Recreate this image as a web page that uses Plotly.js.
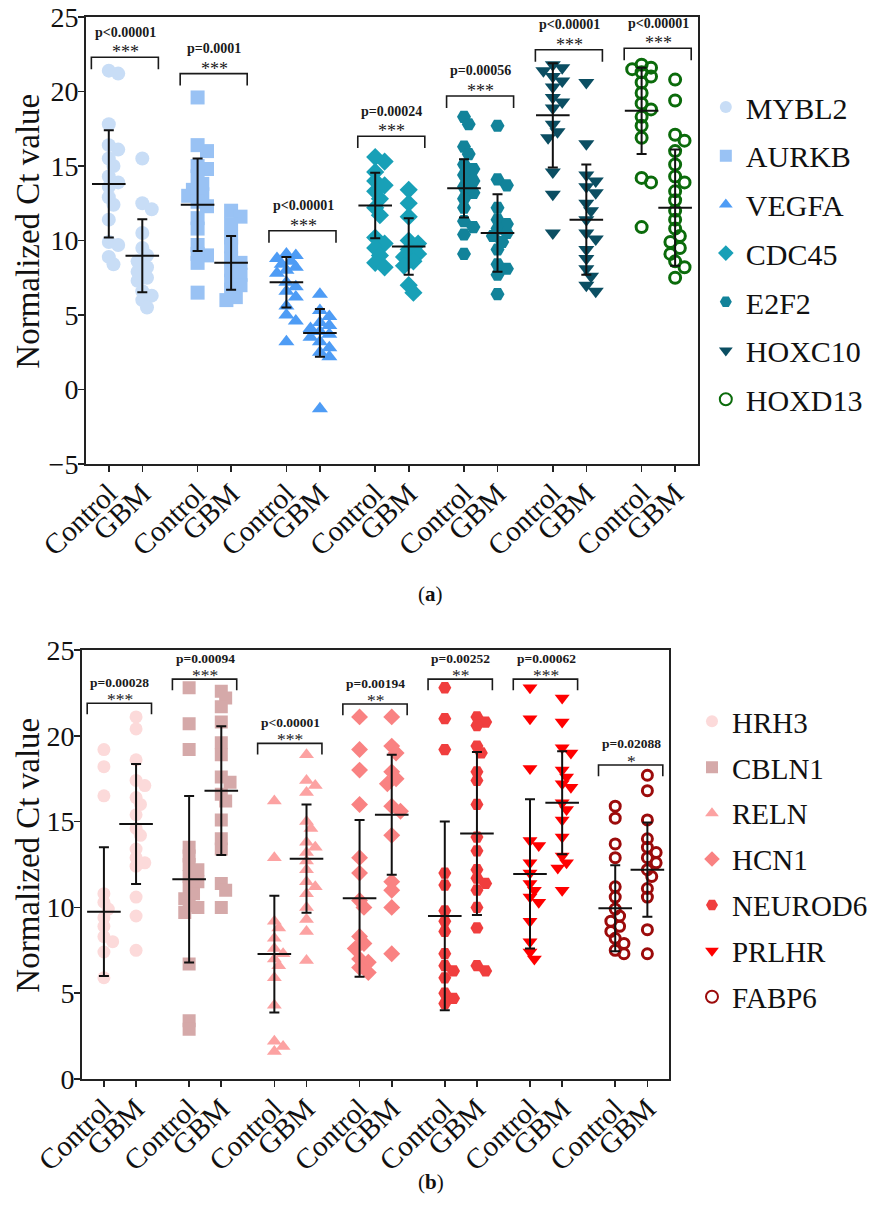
<!DOCTYPE html>
<html>
<head>
<meta charset="utf-8">
<script src="https://cdn.plot.ly/plotly-3.0.1.min.js"></script>
<style>
html,body{margin:0;padding:0;background:#fff}
#chart{width:873px;height:1216px}
</style>
</head>
<body>
<div id="chart"></div>
<script>
// ---------- data: normalized Ct values per gene and group ----------
const groupLabels = ['Control', 'GBM'];
const yTitle = 'Normalized Ct value';

// panel (a)
const genesA = ['MYBL2', 'AURKB', 'VEGFA', 'CDC45', 'E2F2', 'HOXC10', 'HOXD13'];
const mybl2Control = [21.4, 21.2, 17.8, 16.4, 16.1, 15.5, 15.0, 14.3, 13.9, 13.6, 12.9, 12.4, 11.4, 9.9, 9.7, 8.9, 8.4];
const mybl2GBM = [15.5, 12.5, 12.1, 10.5, 9.5, 9.0, 8.6, 8.2, 7.9, 7.5, 7.3, 6.6, 6.3, 6.0, 5.5];
const aurkbControl = [19.6, 16.4, 16.0, 15.0, 14.8, 14.3, 13.8, 13.4, 13.1, 13.0, 12.6, 12.3, 11.5, 10.8, 9.7, 9.1, 9.0, 8.5, 6.5];
const aurkbGBM = [12.0, 11.6, 11.1, 10.2, 9.6, 8.8, 8.5, 8.0, 7.7, 7.3, 7.0, 6.7, 6.2, 6.0];
const vegfaControl = [9.1, 9.0, 8.8, 8.6, 8.4, 8.2, 8.0, 7.8, 7.2, 6.9, 6.6, 6.2, 5.6, 5.0, 4.6, 3.2];
const vegfaGBM = [6.4, 5.3, 4.9, 4.5, 4.3, 4.1, 3.9, 3.7, 3.5, 3.2, 2.8, 2.5, 2.2, -1.3];
const cdc45Control = [15.6, 15.3, 14.6, 14.0, 13.7, 13.3, 12.8, 12.2, 11.7, 10.2, 9.8, 9.5, 9.0, 8.5, 8.2];
const cdc45GBM = [13.4, 12.5, 11.6, 10.0, 9.8, 9.4, 9.1, 8.9, 8.6, 8.3, 7.0, 6.5];
const e2f2Control = [18.3, 17.8, 16.3, 15.8, 15.1, 14.8, 14.4, 14.0, 13.6, 13.2, 12.8, 12.2, 11.3, 10.9, 10.4, 9.1];
const e2f2GBM = [17.7, 14.1, 13.7, 12.2, 11.4, 11.1, 10.8, 10.5, 10.3, 9.9, 9.4, 8.4, 8.1, 7.7, 6.4];
const hoxc10Control = [21.8, 21.6, 21.4, 21.0, 20.7, 20.3, 19.6, 19.3, 18.9, 17.8, 17.3, 16.9, 14.6, 13.1, 10.5];
const hoxc10GBM = [20.6, 16.5, 14.4, 14.0, 13.6, 13.2, 12.5, 12.0, 11.4, 10.5, 10.1, 9.4, 8.8, 8.1, 7.6, 7.0, 6.6];
const hoxd13Control = [21.8, 21.6, 21.5, 21.3, 21.0, 20.6, 19.9, 19.2, 18.8, 18.3, 17.7, 16.9, 14.2, 13.9, 10.9];
const hoxd13GBM = [20.8, 19.4, 17.1, 16.7, 16.0, 15.1, 14.3, 13.9, 13.3, 12.7, 12.0, 11.4, 10.8, 10.3, 9.9, 9.5, 9.1, 8.6, 8.2, 7.5];
// mean and SD per group
const meanCtrlA = [13.8, 12.4, 7.2, 12.35, 13.5, 18.4, 18.7];
const sdCtrlA = [3.6, 3.1, 1.7, 2.2, 1.95, 3.5, 2.9];
const meanGbmA = [8.98, 8.5, 3.8, 9.6, 10.5, 11.4, 12.2];
const sdGbmA = [2.45, 1.8, 1.6, 1.9, 2.6, 3.7, 3.9];
const pLabelsA = ['p<0.00001', 'p=0.0001', 'p<0.00001', 'p=0.00024', 'p=0.00056', 'p<0.00001', 'p<0.00001'];
const starsA = ['***', '***', '***', '***', '***', '***', '***'];

// panel (b)
const genesB = ['HRH3', 'CBLN1', 'RELN', 'HCN1', 'NEUROD6', 'PRLHR', 'FABP6'];
const hrh3Control = [19.2, 18.2, 16.5, 10.8, 10.3, 9.9, 9.4, 8.9, 8.3, 8.0, 7.4, 5.9];
const hrh3GBM = [21.1, 20.4, 18.6, 17.4, 17.1, 16.4, 16.0, 15.4, 14.6, 14.2, 13.4, 12.9, 12.6, 12.4, 10.6, 9.5, 7.5];
const cbln1Control = [22.8, 20.7, 19.2, 13.5, 13.0, 12.5, 12.2, 11.8, 11.5, 11.2, 10.8, 10.5, 10.1, 10.0, 9.7, 6.7, 3.4, 2.9];
const cbln1GBM = [22.6, 22.2, 21.7, 20.8, 19.6, 18.9, 17.6, 17.3, 16.6, 16.2, 15.1, 14.0, 13.4, 11.4, 11.0, 10.0];
const relnControl = [16.2, 12.9, 9.2, 8.8, 8.2, 7.6, 7.3, 7.0, 6.6, 5.9, 4.3, 2.2, 1.9, 1.6];
const relnGBM = [18.9, 17.4, 17.1, 16.7, 15.0, 14.6, 13.8, 13.5, 13.2, 12.7, 12.2, 11.5, 11.2, 10.8, 10.0, 9.3, 8.6, 6.9];
const hcn1Control = [21.1, 19.2, 18.0, 16.0, 12.9, 12.0, 10.4, 10.0, 8.3, 7.9, 7.6, 7.0, 6.8, 6.5, 6.2];
const hcn1GBM = [21.1, 19.4, 19.0, 17.9, 17.5, 17.2, 15.9, 15.6, 14.2, 11.5, 11.0, 10.0, 7.3];
const neurod6Control = [22.8, 21.0, 19.2, 12.0, 11.3, 9.8, 9.2, 8.6, 7.3, 6.6, 6.3, 5.9, 5.0, 4.7, 4.4];
const neurod6GBM = [21.1, 20.8, 20.6, 19.4, 19.0, 17.9, 17.4, 16.0, 14.1, 13.3, 12.2, 11.7, 11.4, 11.0, 10.0, 8.8, 6.6, 6.3];
const prlhrControl = [22.8, 21.0, 18.1, 13.9, 13.6, 12.6, 12.0, 11.4, 11.0, 10.6, 10.3, 9.2, 8.0, 7.4, 7.0];
const prlhrGBM = [22.2, 20.8, 19.3, 19.0, 18.0, 17.6, 17.2, 17.0, 16.1, 15.7, 15.1, 14.1, 13.0, 12.6, 12.3, 11.0];
const fabp6Control = [15.9, 15.2, 13.7, 12.9, 11.2, 10.6, 9.9, 9.5, 9.2, 8.9, 8.6, 8.2, 7.9, 7.5, 7.3];
const fabp6GBM = [17.7, 16.8, 15.1, 14.0, 13.5, 13.2, 12.9, 12.6, 12.2, 11.8, 11.1, 10.6, 8.7, 7.3];
const meanCtrlB = [9.75, 11.64, 7.28, 10.53, 9.5, 11.95, 9.95];
const sdCtrlB = [3.75, 4.85, 3.4, 4.57, 5.5, 4.35, 2.5];
const meanGbmB = [14.86, 16.8, 12.84, 15.4, 14.3, 16.1, 12.2];
const sdGbmB = [3.5, 3.75, 3.15, 3.5, 4.75, 3.0, 2.75];
const pLabelsB = ['p=0.00028', 'p=0.00094', 'p<0.00001', 'p=0.00194', 'p=0.00252', 'p=0.00062', 'p=0.02088'];
const starsB = ['***', '***', '***', '**', '**', '***', '*'];

// ---------- styling and layout ----------
const FONT = "'Liberation Serif', 'Times New Roman', serif";
const SLOT = 2.65;                // spacing between gene pairs, in x units
const symbols = ['circle', 'square', 'triangle-up', 'diamond', 'hexagon2', 'triangle-down', 'circle-open'];
const colorsA = ['#c8ddf6', '#99c2f4', '#4e9cf5', '#18a0b7', '#12839a', '#0b4e62', '#0b6b0b'];
const colorsB = ['#fcdada', '#d5a9a9', '#fca2a2', '#f98282', '#f03e3e', '#ff0000', '#9c0b0b'];
// heights of the significance brackets
const bracketLevelA = [22.3, 21.2, 10.65, 17.0, 19.7, 22.8, 22.9];
const bracketLevelB = [21.9, 23.3, 19.56, 21.85, 23.3, 23.3, 18.3];

const panels = [
  {
    genes: genesA, colors: colorsA,
    control: [mybl2Control, aurkbControl, vegfaControl, cdc45Control, e2f2Control, hoxc10Control, hoxd13Control],
    gbm: [mybl2GBM, aurkbGBM, vegfaGBM, cdc45GBM, e2f2GBM, hoxc10GBM, hoxd13GBM],
    meanC: meanCtrlA, sdC: sdCtrlA, meanG: meanGbmA, sdG: sdGbmA,
    pLabels: pLabelsA, stars: starsA, bracket: bracketLevelA, leg: 0.8,
    xa: 'x', ya: 'y', legend: 'legend', pxX: 33.9, pxY: 14.77, size: 14, pFont: 14,
    starShift: 5, pShift: 25, titleY: 1 - 231 / 1216
  },
  {
    genes: genesB, colors: colorsB,
    control: [hrh3Control, cbln1Control, relnControl, hcn1Control, neurod6Control, prlhrControl, fabp6Control],
    gbm: [hrh3GBM, cbln1GBM, relnGBM, hcn1GBM, neurod6GBM, prlhrGBM, fabp6GBM],
    meanC: meanCtrlB, sdC: sdCtrlB, meanG: meanGbmB, sdG: sdGbmB,
    pLabels: pLabelsB, stars: starsB, bracket: bracketLevelB, leg: 0.65,
    xa: 'x2', ya: 'y2', legend: 'legend2', pxX: 32.5, pxY: 17.16, size: 13, pFont: 13.5,
    starShift: 4, pShift: 21, titleY: 1 - 855 / 1216
  }
];

// tight beeswarm: small sideways nudges where points would stack
function swarm(values, center, pxX, pxY, diam) {
  const order = values.map((v, i) => i).sort((a, b) => values[b] - values[a]);
  const placed = [];
  const xs = new Array(values.length);
  const step = diam * 0.34;
  const cands = [0, step, -step, 2 * step, -2 * step];
  order.forEach(k => {
    const y = values[k] * pxY;
    let best = 0, bestD = -1;
    for (const c of cands) {
      let dmin = Infinity;
      placed.forEach(p => { dmin = Math.min(dmin, Math.hypot(p.x - c, p.y - y)); });
      if (dmin >= diam * 0.55) { best = c; bestD = Infinity; break; }
      if (dmin > bestD) { bestD = dmin; best = c; }
    }
    placed.push({x: best, y: y});
    xs[k] = center + best / pxX;
  });
  return xs;
}

const traces = [];
const shapes = [];
const annotations = [];

panels.forEach(P => {
  const mx = [], my = [], me = [];
  P.genes.forEach((g, i) => {
    const xc = SLOT * i, xg = SLOT * i + 1;
    const open = symbols[i] === 'circle-open';
    const ys = P.control[i].concat(P.gbm[i]);
    const xs = swarm(P.control[i], xc, P.pxX, P.pxY, P.size).concat(swarm(P.gbm[i], xg, P.pxX, P.pxY, P.size));
    traces.push({
      type: 'scatter', mode: 'markers', name: g,
      x: xs, y: ys, xaxis: P.xa, yaxis: P.ya, legend: P.legend,
      legendgroup: g,
      marker: {
        symbol: symbols[i], color: P.colors[i],
        size: open ? P.size - 3 : P.size,
        line: open ? {color: P.colors[i], width: 3} : {width: 0}
      },
      hoverinfo: 'y'
    });
    mx.push(xc, xg); my.push(P.meanC[i], P.meanG[i]); me.push(P.sdC[i], P.sdG[i]);

    // significance bracket
    const top = P.bracket[i];
    shapes.push({
      type: 'path', xref: P.xa, yref: P.ya,
      path: `M ${xc - 0.52} ${top - P.leg} L ${xc - 0.52} ${top} L ${xg + 0.48} ${top} L ${xg + 0.48} ${top - P.leg}`,
      line: {color: '#1a1a1a', width: 1.6}
    });
    annotations.push({
      xref: P.xa, yref: P.ya, x: (xc + xg) / 2, y: top, text: P.stars[i],
      showarrow: false, yanchor: 'middle', yshift: P.starShift,
      font: {family: FONT, size: P.pFont + 4, color: '#1a1a1a'}
    });
    annotations.push({
      xref: P.xa, yref: P.ya, x: (xc + xg) / 2, y: top, text: '<b>' + P.pLabels[i] + '</b>',
      showarrow: false, yanchor: 'middle', yshift: P.pShift,
      font: {family: FONT, size: P.pFont, color: '#1a1a1a'}
    });
  });
  // mean ± SD
  traces.push({
    type: 'scatter', mode: 'markers', x: mx, y: my, xaxis: P.xa, yaxis: P.ya,
    showlegend: false, hoverinfo: 'y',
    marker: {symbol: 'line-ew', size: 24, line: {color: '#111', width: 2}},
    error_y: {type: 'data', array: me, visible: true, color: '#111', thickness: 2, width: 5}
  });
  // y-axis title
  annotations.push({
    xref: 'paper', yref: 'paper', x: 28 / 873, y: P.titleY, text: yTitle, textangle: -90,
    showarrow: false, xanchor: 'center', yanchor: 'middle',
    font: {family: FONT, size: 33, color: '#111'}
  });
});

// tick positions and labels
const tickVals = [], tickText = [];
for (let i = 0; i < 7; i++) { tickVals.push(SLOT * i, SLOT * i + 1); tickText.push(groupLabels[0], groupLabels[1]); }

function xAxis(domain, anchor) {
  return {
    domain: domain, anchor: anchor, range: [-0.68, SLOT * 6 + 1.68],
    tickmode: 'array', tickvals: tickVals, ticktext: tickText, tickangle: -44,
    ticks: 'outside', ticklen: 6, tickwidth: 1.6, tickcolor: '#222',
    ticklabelstandoff: -7,
    showline: true, linewidth: 2, linecolor: '#222', mirror: true,
    showgrid: false, zeroline: false,
    tickfont: {family: FONT, size: 29, color: '#111'}
  };
}
function yAxis(domain, anchor, range, dtick) {
  return {
    domain: domain, anchor: anchor, range: range, dtick: dtick, tick0: 0,
    ticks: 'outside', ticklen: 6, tickwidth: 1.6, tickcolor: '#222',
    ticklabelstandoff: -6,
    showline: true, linewidth: 2, linecolor: '#222', mirror: true,
    showgrid: false, zeroline: false,
    tickfont: {family: FONT, size: 28, color: '#111'}
  };
}

annotations.push({
  xref: 'paper', yref: 'paper', x: 0.4994, y: 1 - 594 / 1216, text: '(<b>a</b>)', showarrow: false,
  font: {family: FONT, size: 21, color: '#111'}
});
annotations.push({
  xref: 'paper', yref: 'paper', x: 0.4994, y: 1 - 1196 / 1216, text: '(<b>b</b>)', showarrow: false,
  font: {family: FONT, size: 21, color: '#111'}
});

const legendBase = {
  xanchor: 'left', yanchor: 'top', bgcolor: 'rgba(0,0,0,0)', itemsizing: 'constant',
  traceorder: 'grouped'
};

const layout = {
  width: 873, height: 1216,
  margin: {l: 0, r: 0, t: 0, b: 0},
  paper_bgcolor: '#fff', plot_bgcolor: '#fff',
  showlegend: true,
  xaxis: xAxis([87 / 873, 706 / 873], 'y'),
  yaxis: yAxis([1 - 464 / 1216, 1 - 17 / 1216], 'x', [-5, 25], 5),
  xaxis2: xAxis([83 / 873, 677 / 873], 'y2'),
  yaxis2: yAxis([1 - 1079 / 1216, 1 - 650 / 1216], 'x2', [0, 25], 5),
  legend: Object.assign({x: 714 / 873, y: 1 - 81 / 1216, tracegroupgap: 6.7,
    font: {family: FONT, size: 30, color: '#111'}}, legendBase),
  legend2: Object.assign({x: 700 / 873, y: 1 - 696 / 1216, tracegroupgap: 5.2,
    font: {family: FONT, size: 29, color: '#111'}}, legendBase),
  shapes: shapes,
  annotations: annotations
};

Plotly.newPlot('chart', traces, layout, {displayModeBar: false, staticPlot: true});
</script>
</body>
</html>
